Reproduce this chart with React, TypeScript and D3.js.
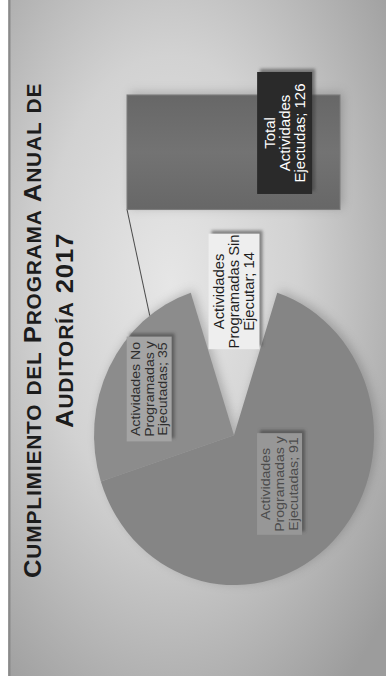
import * as d3 from 'd3';

// Chart data
const sliceNames = [
    "Actividades No\nProgramadas y\nEjecutadas",
    "Actividades\nProgramadas Sin\nEjecutar",
    "Actividades\nProgramadas y\nEjecutadas",
];
const sliceValues = [35, 14, 91];
const barName = "Total\nActividades\nEjectudas";
const barValue = 126;
const titleLines = ["Cumplimiento del Programa Anual de", "Auditoría 2017"];

const W = 386, H = 676;
// the scan is rotated a quarter turn and slightly stretched along its reading direction
const K = 1.07;
const FONT = "'Liberation Sans', Arial, sans-serif";

const sliceFill = ["#8c8c8c", "none", "#858585"];
const labelStyle = [
    { r: 0.68, w: 98, h: 45, fill: "#a4a4a4", color: "#2e2e2e", fs: 13.2, lh: 13.5 },
    { r: 0.96, w: 108, h: 51, fill: "#eeeeee", color: "#1e1e1e", fs: 13.8, lh: 15 },
    { r: 0.46, w: 95, h: 45, fill: "#979797", color: "#4c4c4c", fs: 13.2, lh: 14 },
];

// simulated small caps: capitals & digits full size, lowercase shrunk
function smallCaps(s: string, big: number, small: number) {
    const runs: { t: string, size: number }[] = [];
    for (const ch of s) {
        const isSmall = ch !== ch.toUpperCase();
        const size = isSmall ? small : big;
        const t = ch.toUpperCase();
        if (runs.length && runs[runs.length - 1].size === size) runs[runs.length - 1].t += t;
        else runs.push({ t, size });
    }
    return runs.map((r, i) => <tspan key={i} fontSize={r.size}>{r.t}</tspan>);
}

function Label(props: { cx: number, cy: number, w: number, h: number, fill: string, color: string, fs: number, lh: number, lines: string[] }) {
    const { cx, cy, w, h, lines } = props;
    return (
        <g>
            <rect x={cx - w / 2 + 3} y={cy - h / 2 + 3} width={w} height={h} fill="#3a3a3a" opacity={0.55} filter="url(#soft)" />
            <rect x={cx - w / 2} y={cy - h / 2} width={w} height={h} fill={props.fill} />
            {lines.map((l, i) => (
                <text key={i} x={cx} y={cy + (i - (lines.length - 1) / 2) * props.lh + props.fs * 0.36}
                    textAnchor="middle" fontSize={props.fs} fill={props.color} fontFamily={FONT}>{l}</text>
            ))}
        </g>
    );
}

export default function App() {
    const cx = 225, cy = 234, r = 140;
    const deg = Math.PI / 180;

    const pie = d3.pie<number>().sort(null).startAngle(-18 * deg).endAngle(342 * deg);
    const arcs = pie(sliceValues);
    const arc = d3.arc<d3.PieArcDatum<number>>().innerRadius(0).outerRadius(r);

    const barX = d3.scaleBand().domain([barName]).range([436, 543]).padding(0);
    const barY = d3.scaleLinear().domain([0, barValue]).range([340, 127]);

    const connA = 53 * deg;
    const conn = [cx + r * Math.sin(connA), cy - r * Math.cos(connA)];

    return (
        <svg width={W} height={H} style={{ position: 'absolute', left: 0, top: 0 }}>
            <defs>
                <radialGradient id="bg" cx="0.58" cy="0.43" r="0.75">
                    <stop offset="0" stopColor="#e6e6e6" />
                    <stop offset="0.45" stopColor="#d2d2d2" />
                    <stop offset="1" stopColor="#9c9c9c" />
                </radialGradient>
                <linearGradient id="barg" x1="0" x2="1" y1="0" y2="0">
                    <stop offset="0" stopColor="#676767" />
                    <stop offset="0.5" stopColor="#737373" />
                    <stop offset="1" stopColor="#676767" />
                </linearGradient>
                <filter id="soft" x="-20%" y="-20%" width="140%" height="140%">
                    <feGaussianBlur stdDeviation="1.5" />
                </filter>
                <filter id="shadow" x="-20%" y="-20%" width="140%" height="140%">
                    <feGaussianBlur stdDeviation="5" />
                </filter>
            </defs>
            <rect x={0} y={0} width={W} height={H} fill="#ffffff" />
            <g transform={`translate(0,${H}) rotate(-90) scale(${K},1)`}>
                <rect x={0} y={8} width={H / K} height={W - 8} fill="url(#bg)" />
                <line x1={0} x2={H / K} y1={9.5} y2={9.5} stroke="#8a8a8a" strokeWidth={2} />

                {titleLines.map((t, i) => (
                    <text key={i} x={323} y={41 + i * 32} textAnchor="middle" fontFamily={FONT}
                        fontWeight="bold" fill="#1c1c1c" letterSpacing={0.8}>{smallCaps(t, 24, 19.5)}</text>
                ))}

                {/* pie */}
                <g transform={`translate(${cx},${cy})`}>
                    {arcs.map((a, i) => sliceFill[i] === "none" ? null : (
                        <path key={'s' + i} d={arc(a)!} fill="#555" opacity={0.35} transform="translate(2,3)" filter="url(#shadow)" />
                    ))}
                    {arcs.map((a, i) => (
                        <path key={i} d={arc(a)!} fill={sliceFill[i]} />
                    ))}
                </g>

                <line x1={conn[0]} y1={conn[1]} x2={barX(barName)!} y2={barY(barValue)} stroke="#4a4a4a" strokeWidth={1} />

                {/* bar */}
                <rect x={barX(barName)! + 2} y={barY(barValue) + 3} width={barX.bandwidth()} height={barY(0) - barY(barValue)}
                    fill="#555" opacity={0.35} filter="url(#shadow)" />
                <rect x={barX(barName)} y={barY(barValue)} width={barX.bandwidth()} height={barY(0) - barY(barValue)}
                    fill="url(#barg)" stroke="#7c7c7c" strokeWidth={1} />

                {/* data labels */}
                {arcs.map((a, i) => {
                    const st = labelStyle[i];
                    const c = d3.arc<d3.PieArcDatum<number>>().innerRadius(r * st.r).outerRadius(r * st.r).centroid(a);
                    const lines = sliceNames[i].split("\n");
                    lines[lines.length - 1] += `; ${sliceValues[i]}`;
                    return <Label key={i} cx={cx + c[0]} cy={cy + c[1]} {...st} lines={lines} />;
                })}
                <Label cx={barX(barName)! + barX.bandwidth() / 2 + 18} cy={barY(barValue * 0.26)} w={114} h={55}
                    fill="#2a2a2a" color="#ffffff" fs={14} lh={15}
                    lines={(barName + `; ${barValue}`).split("\n")} />
            </g>
        </svg>
    );
}
